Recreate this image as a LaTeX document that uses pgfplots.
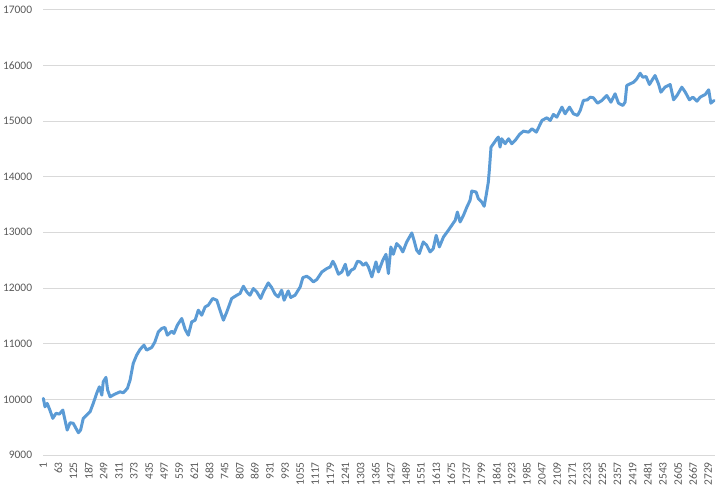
\documentclass[border=0pt]{standalone}
\usepackage{pgfplots}
\pgfplotsset{compat=1.18}
\usepackage{pgfplotstable}
\usepackage{fontspec}
\setmainfont{Carlito}
\definecolor{linec}{HTML}{5B9BD5}
\definecolor{gridc}{HTML}{D9D9D9}
\definecolor{textc}{HTML}{595959}
\pgfplotstableread{
idx val
1 10017
8 9866
17 9927
28 9807
40 9658
53 9748
67 9735
81 9807
90 9628
99 9448
111 9580
124 9569
135 9479
145 9400
154 9448
165 9658
179 9717
193 9777
206 9927
220 10107
231 10225
241 10076
247 10315
258 10394
265 10166
275 10046
295 10094
316 10135
329 10117
346 10196
357 10345
370 10645
384 10794
398 10896
414 10973
425 10883
446 10932
459 11032
473 11212
487 11273
500 11291
510 11152
528 11224
537 11183
551 11332
569 11452
583 11255
596 11152
610 11391
624 11422
637 11601
651 11511
665 11660
678 11691
696 11811
713 11780
726 11601
740 11421
754 11570
774 11811
795 11870
808 11900
822 12031
836 11929
849 11870
863 11990
877 11929
893 11811
904 11929
924 12091
938 12008
952 11888
965 11840
979 11960
989 11780
1006 11947
1016 11829
1034 11870
1055 12019
1066 12187
1082 12211
1096 12169
1109 12109
1123 12151
1144 12288
1164 12349
1178 12378
1189 12480
1198 12408
1212 12247
1226 12288
1240 12426
1251 12229
1264 12318
1277 12349
1290 12480
1301 12468
1314 12408
1325 12450
1335 12378
1349 12199
1366 12468
1376 12288
1394 12498
1407 12605
1417 12259
1427 12736
1437 12605
1451 12797
1465 12736
1476 12647
1492 12826
1513 12988
1522 12857
1533 12677
1544 12618
1560 12827
1574 12767
1588 12647
1601 12707
1613 12946
1626 12737
1643 12916
1663 13036
1677 13126
1691 13215
1700 13364
1711 13185
1725 13305
1739 13454
1752 13574
1759 13741
1777 13723
1786 13604
1800 13544
1810 13467
1818 13664
1827 13903
1831 14112
1838 14530
1848 14591
1862 14680
1868 14710
1875 14530
1882 14680
1896 14591
1910 14680
1923 14591
1937 14650
1955 14758
1971 14817
1992 14799
2006 14859
2024 14799
2047 15009
2067 15057
2081 15009
2094 15117
2108 15068
2129 15248
2142 15129
2160 15248
2176 15129
2193 15099
2204 15188
2217 15368
2234 15380
2245 15427
2258 15416
2275 15319
2293 15368
2313 15457
2330 15337
2347 15488
2361 15319
2379 15278
2388 15337
2395 15637
2409 15667
2423 15696
2436 15756
2450 15857
2461 15785
2474 15798
2488 15655
2502 15756
2511 15816
2525 15667
2535 15517
2552 15607
2573 15655
2587 15380
2601 15457
2621 15607
2635 15517
2652 15380
2666 15427
2683 15355
2696 15427
2717 15476
2731 15560
2740 15319
2753 15368
}\datatable
\begin{document}
\begin{tikzpicture}
\path[use as bounding box] (0,0) rectangle (719bp,493bp);
\begin{axis}[
  at={(43.3bp,38bp)}, anchor=south west,
  scale only axis,
  width=671.7bp, height=445.4bp,
  xmin=1, xmax=2757,
  ymin=9000, ymax=17000,
  ytick={9000,10000,...,17000},
  xtick={1,63,...,2729},
  scaled y ticks=false,
  scaled x ticks=false,
  axis line style={draw=none},
  major tick length=0pt,
  ymajorgrids,
  grid style={gridc, line width=0.75pt},
  tick label style={font=\fontsize{11.5}{13}\selectfont, text=textc},
  /pgf/number format/assume math mode=true,
  /pgf/number format/1000 sep={},
  yticklabel style={anchor=east, inner sep=0pt, xshift=-11bp},
  xticklabel style={rotate=90, anchor=east, inner sep=0pt, xshift=-7bp},
  clip=false,
]
\addplot[linec, line width=3pt, line join=round, line cap=round] table[x=idx, y=val] {\datatable};
\end{axis}
\end{tikzpicture}
\end{document}
